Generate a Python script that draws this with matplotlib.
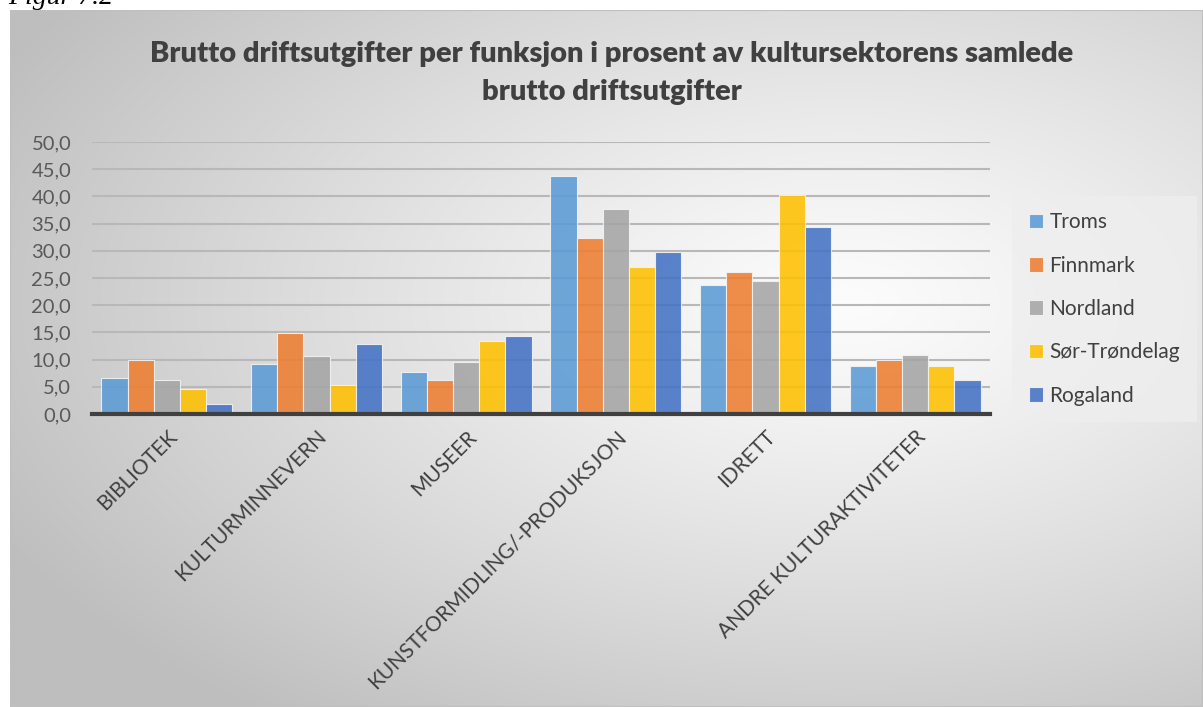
import numpy as np
import matplotlib.pyplot as plt
from matplotlib.patches import Rectangle

categories = ['BIBLIOTEK', 'KULTURMINNEVERN', 'MUSEER',
              'KUNSTFORMIDLING/-PRODUKSJON', 'IDRETT', 'ANDRE KULTURAKTIVITETER']
regions = ['Troms', 'Finnmark', 'Nordland', 'Sør-Trøndelag', 'Rogaland']

troms = [6.6, 9.1, 7.7, 43.8, 23.8, 8.8]
finnmark = [10.0, 14.9, 6.3, 32.3, 26.1, 9.9]
nordland = [6.2, 10.7, 9.5, 37.7, 24.5, 10.9]
sor_trondelag = [4.6, 5.3, 13.4, 27.0, 40.2, 8.8]
rogaland = [1.9, 12.9, 14.3, 29.8, 34.3, 6.2]

series = [troms, finnmark, nordland, sor_trondelag, rogaland]
colors = ['#5B9BD5', '#ED7D31', '#A5A5A5', '#FFC000', '#4472C4']

yticks = np.arange(0, 51, 5)

W, H = 1203, 707
fig = plt.figure(figsize=(W / 100, H / 100), dpi=100)
fig.patch.set_facecolor('white')

# chart area with a radial grey-to-white fill
x0, y0 = 10 / W, 0
bg = fig.add_axes([x0, y0, 1 - x0, (H - 10) / H])
bg.set_axis_off()
nx, ny = 600, 350
gx, gy = np.meshgrid(np.linspace(0, 1, nx), np.linspace(0, 1, ny))
r = np.sqrt(((gx - 0.70) / 0.80) ** 2 + ((gy - 0.42) / 0.75) ** 2)
shade = 252 - 62 * np.clip(r, 0, 1) ** 1.2
img = np.dstack([shade, shade, shade]) / 255
bg.imshow(img, extent=[0, 1, 1, 0], aspect='auto', interpolation='bilinear')
bg.set_xlim(0, 1)
bg.set_ylim(1, 0)
bg.add_patch(Rectangle((0, 0), 1, 1, transform=bg.transAxes, fill=False,
                       edgecolor='#BFBFBF', linewidth=1.5))

fig.text(8 / W, 1 - 4 / H, 'Figur 7.2', family='Liberation Serif',
         style='italic', fontsize=20, va='baseline', ha='left')

title_kw = dict(family='Lato', weight='heavy', fontsize=21, color='#404040',
                ha='center', va='center')
fig.text(612 / W, 1 - 54 / H,
         'Brutto driftsutgifter per funksjon i prosent av kultursektorens samlede',
         **title_kw)
fig.text(612 / W, 1 - 92 / H, 'brutto driftsutgifter', **title_kw)

ax = fig.add_axes([92 / W, (H - 414) / H, (990 - 92) / W, 272 / H])
ax.patch.set_alpha(0)

n = len(series)
bar_w = 0.175
x = np.arange(len(categories))
for i, (vals, c, name) in enumerate(zip(series, colors, regions)):
    pos = x + (i - (n - 1) / 2) * bar_w
    ax.bar(pos, vals, width=bar_w, color=c, alpha=0.88, edgecolor='#F4F4F4',
           linewidth=0.8, label=name, zorder=3)

ax.set_xlim(-0.5, len(categories) - 0.5)
ax.set_ylim(0, 50)
ax.set_yticks(yticks)
ax.set_yticklabels([f'{v:.1f}'.replace('.', ',') for v in yticks],
                   family='Lato', fontsize=14.5, color='#595959')
ax.yaxis.grid(True, color='#B8B8B8', linewidth=1.5, zorder=0)
ax.set_axisbelow(True)
ax.tick_params(axis='y', length=0, pad=15)
ax.tick_params(axis='x', length=0, pad=9)
ax.set_xticks(x)
ax.set_xticklabels(categories, rotation=45, ha='right', rotation_mode='anchor',
                   family='Lato', fontsize=15, color='#404040')
for s in ['top', 'right', 'left']:
    ax.spines[s].set_visible(False)
ax.spines['bottom'].set_color('#404040')
ax.spines['bottom'].set_linewidth(3)
ax.spines['bottom'].set_zorder(4)

leg = fig.legend(loc='center left', bbox_to_anchor=(1012 / W, 1 - 309 / H),
                 frameon=True, fancybox=False, prop={'family': 'Lato', 'size': 15},
                 labelspacing=1.12, handlelength=0.7, handleheight=0.7,
                 handletextpad=0.3, borderpad=0.8, borderaxespad=0)
leg.get_frame().set_facecolor('#EEEEEE')
leg.get_frame().set_edgecolor('none')
leg.get_frame().set_alpha(0.8)
for t in leg.get_texts():
    t.set_color('#404040')

fig.savefig('out.png', dpi=100)
